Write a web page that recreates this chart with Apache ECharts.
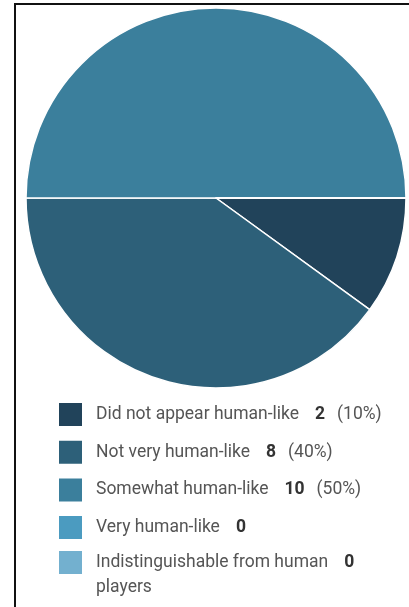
<!DOCTYPE html>
<html><head><meta charset="utf-8">
<script src="https://cdn.jsdelivr.net/npm/echarts@6/dist/echarts.min.js"></script>
<style>
html,body{margin:0;padding:0;background:#fff;overflow:hidden;width:409px;height:607px}
#c{position:absolute;left:0;top:0;width:409px;height:760px}
#b{position:absolute;left:14px;top:3px;width:600px;height:800px;border:2px solid #111;box-sizing:border-box;pointer-events:none;z-index:2}
</style></head>
<body>
<div id="b"></div>
<div id="c"></div>
<script>
const categories = ['Did not appear human-like', 'Not very human-like', 'Somewhat human-like', 'Very human-like', 'Indistinguishable from human\nplayers'];
const values = [2, 8, 10, 0, 0];
const colors = ['#21435a', '#2d6079', '#3b7f9c', '#4b9bc0', '#73b0cf'];

const total = values.reduce((a, b) => a + b, 0);
const chart = echarts.init(document.getElementById('c'), null, {renderer: 'canvas'});
const fs = 17.5;
function fmt(name) {
  const i = categories.indexOf(name);
  const v = values[i];
  const pct = v > 0 ? '{p|(' + Math.round(v / total * 100) + '%)}' : '';
  const parts = name.split('\n');
  let s = '{n|' + parts[0] + '}{v|' + v + '}' + pct;
  if (parts.length > 1) s += '\n{n|' + parts[1] + '}';
  return s;
}
function textStyle(padTop) {
  return {
    fontFamily: 'Roboto',
    fontSize: fs,
    color: '#555',
    padding: [padTop, 0, 0, 8],
    rich: {
      n: {fontFamily: 'Roboto', fontSize: fs, color: '#555', lineHeight: 25, padding: [0, 16, 0, 0]},
      v: {fontFamily: 'Roboto', fontSize: fs, color: '#333', fontWeight: 'bold', lineHeight: 25, padding: [0, 12, 0, 0]},
      p: {fontFamily: 'Roboto', fontSize: fs, color: '#555', lineHeight: 25}
    }
  };
}
const legendBase = {
  orient: 'vertical',
  left: 57,
  padding: 0,
  itemWidth: 25,
  itemHeight: 25,
  itemGap: 10.7,
  icon: 'rect',
  selectedMode: false,
  formatter: fmt
};
chart.setOption({
  animation: false,
  color: colors,
  legend: [
    Object.assign({}, legendBase, {top: 401, textStyle: textStyle(0), data: categories.slice(0, 4)}),
    Object.assign({}, legendBase, {top: 549, textStyle: textStyle(25), data: categories.slice(4)})
  ],
  series: [{
    type: 'pie',
    center: [216, 198],
    radius: [0, 190],
    startAngle: 0,
    clockwise: true,
    label: {show: false},
    labelLine: {show: false},
    emphasis: {disabled: true},
    itemStyle: {borderColor: '#fff', borderWidth: 1.5},
    data: categories.map((c, i) => ({name: c, value: values[i]}))
  }]
});
</script>
</body></html>
